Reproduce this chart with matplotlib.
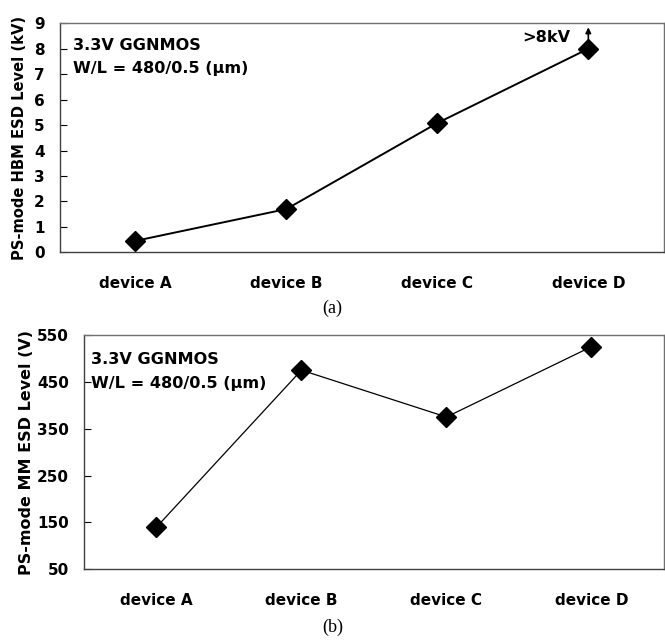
import matplotlib.pyplot as plt

devices = ['device A', 'device B', 'device C', 'device D']
hbm_kv = [0.45, 1.7, 5.08, 8.0]
mm_v = [140, 475, 375, 525]

hbm_ticks = list(range(0, 10))
mm_ticks = [50, 150, 250, 350, 450, 550]

plt.rcParams['font.family'] = ['DejaVu Sans']
plt.rcParams['font.weight'] = 'bold'

fig = plt.figure(figsize=(6.65, 6.43), dpi=100)
ax1 = fig.add_axes([0.0902, 0.6076, 0.908, 0.3562])
ax2 = fig.add_axes([0.1263, 0.1146, 0.872, 0.3644])

x = list(range(len(devices)))
fs = 11
note_fs = 11.6


def style(ax):
    for s in ax.spines.values():
        s.set_color('#707070')
        s.set_linewidth(1.0)
    ax.spines['left'].set_color('#404040')
    ax.spines['bottom'].set_color('#404040')
    ax.set_xlim(-0.5, 3.5)
    ax.set_xticks(x)
    ax.set_xticklabels(devices, fontsize=fs, fontweight='bold')
    ax.tick_params(axis='x', length=0, pad=17)
    ax.tick_params(axis='y', length=5, direction='in', labelsize=fs, pad=11)


# (a) HBM
ax1.plot(x, hbm_kv, color='black', lw=1.4, marker='D', markersize=10.5)
ax1.set_ylim(0, 9)
ax1.set_yticks(hbm_ticks)
style(ax1)
ax1.set_ylabel('PS-mode HBM ESD Level (kV)', fontsize=10.6, fontweight='bold', labelpad=5)
ax1.text(0.022, 0.904, '3.3V GGNMOS', transform=ax1.transAxes, fontsize=note_fs,
         fontweight='bold', va='center')
ax1.text(0.022, 0.804, 'W/L = 480/0.5 (μm)', transform=ax1.transAxes, fontsize=note_fs,
         fontweight='bold', va='center')
ax1.annotate('', xy=(3, 8.95), xytext=(3, 8.2),
             arrowprops=dict(arrowstyle='-|>', color='black', lw=1.2, mutation_scale=8))
ax1.text(2.88, 8.45, '>8kV', fontsize=note_fs, fontweight='bold', ha='right', va='center')
fig.text(0.5, 0.521, '(a)', family='Liberation Serif', fontweight='normal',
         fontsize=13, ha='center', va='center')

# (b) MM
ax2.plot(x, mm_v, color='black', lw=0.9, marker='D', markersize=10.5)
ax2.set_ylim(50, 550)
ax2.set_yticks(mm_ticks)
style(ax2)
ax2.set_ylabel('PS-mode MM ESD Level (V)', fontsize=11.5, fontweight='bold', labelpad=2)
ax2.text(0.012, 0.897, '3.3V GGNMOS', transform=ax2.transAxes, fontsize=note_fs,
         fontweight='bold', va='center')
ax2.text(0.012, 0.795, 'W/L = 480/0.5 (μm)', transform=ax2.transAxes, fontsize=note_fs,
         fontweight='bold', va='center')
fig.text(0.5, 0.025, '(b)', family='Liberation Serif', fontweight='normal',
         fontsize=13, ha='center', va='center')

fig.savefig('out.png', dpi=100)
